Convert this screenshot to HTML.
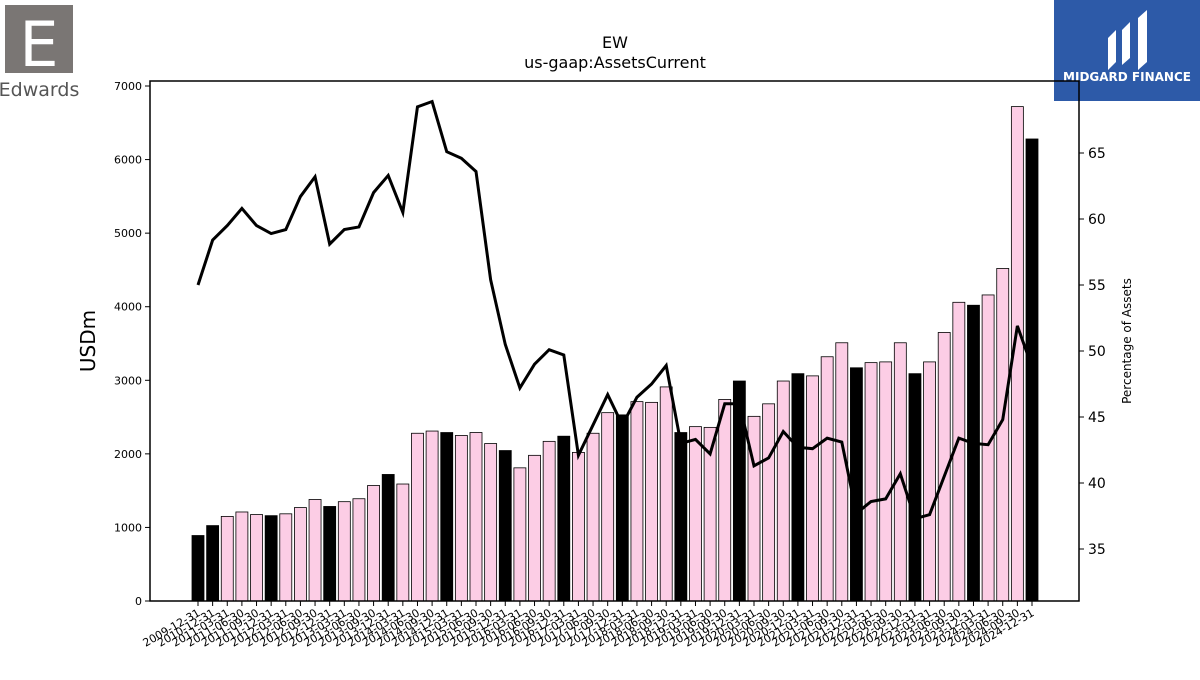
<!DOCTYPE html>
<html><head><meta charset="utf-8"><style>
body{margin:0;background:#fff;font-family:"Liberation Sans",sans-serif}
svg text{font-family:"DejaVu Sans","Liberation Sans",sans-serif}
</style></head><body>
<svg id="chart" width="1200" height="675">
<g>
<rect x="5" y="5" width="68" height="68" fill="#7a7674"/>
<text x="39" y="66" font-size="62" text-anchor="middle" fill="#fff" font-family="Liberation Serif,serif">E</text>
<text x="39" y="96" font-size="19" text-anchor="middle" fill="#555" font-family="Liberation Serif,serif">Edwards</text>
</g>
<g>
<rect x="1054" y="0" width="146" height="101" fill="#2d5aa8"/>
<path d="M1108 70 L1108 38 L1116 30 L1116 62 Z M1122 65 L1122 30 L1130 22 L1130 58 Z M1138 70 L1138 18 L1147 10 L1147 62 Z" fill="#fff"/>
<text x="1127" y="81" font-size="12" font-weight="bold" text-anchor="middle" fill="#fff">MIDGARD FINANCE</text>
</g>
<text x="615" y="48" font-size="16" text-anchor="middle">EW</text>
<text x="615" y="68" font-size="16" text-anchor="middle">us-gaap:AssetsCurrent</text>
<g id="plot"></g>
<text x="95" y="341" font-size="20" text-anchor="middle" transform="rotate(-90 95 341)">USDm</text>
<text x="1131" y="341" font-size="12" text-anchor="middle" transform="rotate(-90 1131 341)">Percentage of Assets</text>
</svg>
<script>
const values=[890,1025,1150,1210,1175,1160,1185,1270,1380,1285,1350,1390,1570,1720,1590,2280,2310,2290,2250,2290,2140,2045,1810,1980,2170,2240,2020,2280,2560,2530,2710,2700,2910,2290,2370,2360,2740,2990,2510,2680,2990,3090,3060,3320,3510,3170,3240,3250,3510,3090,3250,3650,4060,4020,4160,4520,6720,6280];
const pct=[55,58.4,59.5,60.8,59.5,58.9,59.2,61.7,63.2,58.1,59.2,59.4,62,63.3,60.5,68.5,68.9,65.1,64.6,63.6,55.4,50.5,47.2,49,50.1,49.7,42.1,44.4,46.7,44.4,46.5,47.5,48.9,43,43.3,42.2,46,46,41.3,41.9,43.9,42.7,42.6,43.4,43.1,37.7,38.6,38.8,40.7,37.3,37.6,40.5,43.4,43,42.9,44.8,51.9,48.8];
const leftTicks=[0,1000,2000,3000,4000,5000,6000,7000];
const rightTicks=[35,40,45,50,55,60,65];
const labels=["2009-12-31","2010-12-31"];
for(let y=2011;y<=2024;y++)for(const q of["03-31","06-30","09-30","12-31"])labels.push(y+"-"+q);
const X0=150,X1=1079,Y0=601,Y1=81;
const yL=v=>601-v*0.07357;
const yR=v=>153-(v-65)*13.2;
const xB=i=>198+i*(1032-198)/(values.length-1);
const NS="http://www.w3.org/2000/svg",g=document.getElementById('plot');
function mk(t,a,p){const e=document.createElementNS(NS,t);for(const k in a)e.setAttribute(k,a[k]);(p||g).appendChild(e);return e;}
values.forEach((v,i)=>{const annual=labels[i].endsWith("12-31");
const r=mk('rect',{x:xB(i)-6,y:yL(v),width:12,height:Y0-yL(v),fill:annual?'#000':'#fccde5',stroke:'#000','stroke-width':0.8});


const t=mk('line',{x1:xB(i),x2:xB(i),y1:Y0,y2:Y0+5,stroke:'#000'});
const lb=mk('text',{x:xB(i)+3,y:Y0+14,'font-size':11,'text-anchor':'end',transform:`rotate(-30 ${xB(i)+3} ${Y0+14})`});
lb.textContent=labels[i];

});
const pl=mk('polyline',{points:pct.map((v,i)=>xB(i)+','+yR(v)).join(' '),fill:'none',stroke:'#000','stroke-width':3});


leftTicks.forEach(v=>{mk('line',{x1:X0-5,x2:X0,y1:yL(v),y2:yL(v),stroke:'#000'});
const t=mk('text',{x:X0-8,y:yL(v)+4,'font-size':11,'text-anchor':'end'});t.textContent=v;

});
rightTicks.forEach(v=>{mk('line',{x1:X1,x2:X1+5,y1:yR(v),y2:yR(v),stroke:'#000'});
const t=mk('text',{x:X1+9,y:yR(v)+5,'font-size':14});t.textContent=v;

});
const f=mk('rect',{x:X0,y:Y1,width:X1-X0,height:Y0-Y1,fill:'none',stroke:'#000','stroke-width':1.5});


</script>
</body></html>
